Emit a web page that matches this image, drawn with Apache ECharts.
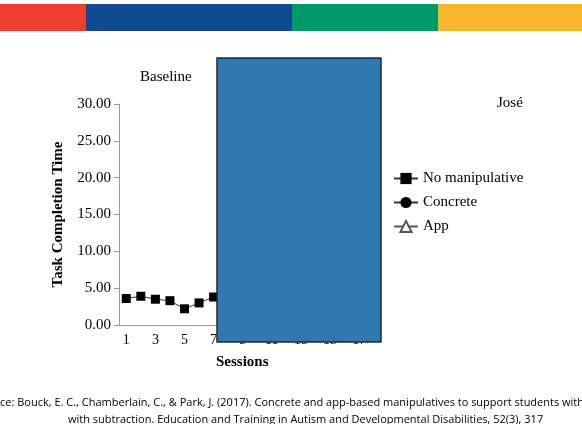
<!DOCTYPE html>
<html>
<head>
<meta charset="utf-8">
<script src="https://cdn.jsdelivr.net/npm/echarts@6/dist/echarts.min.js"></script>
<style>html,body{margin:0;padding:0;background:#fff}#c{width:582px;height:424px}</style>
</head>
<body>
<div id="c"></div>
<script>
// 数据
var sessions = ['1','2','3','4','5','6','7','8','9','10','11','12','13','14','15','16','17','18'];
var noManipulative = [3.6, 3.9, 3.5, 3.3, 2.2, 3.0, 3.8];
var concrete = [];
var app = [];
var yTicks = [0, 5, 10, 15, 20, 25, 30];

var serif = 'Liberation Serif';
var chart = echarts.init(document.getElementById('c'));
chart.setOption({
    animation: false,
    grid: {left: 119, right: 201, top: 104, bottom: 99},
    xAxis: {
        type: 'category', data: sessions, boundaryGap: true,
        axisLine: {lineStyle: {color: '#999'}},
        axisTick: {lineStyle: {color: '#999'}, alignWithLabel: false},
        axisLabel: {interval: 1, color: '#000', fontFamily: serif, fontSize: 14}
    },
    yAxis: {
        type: 'value', min: yTicks[0], max: yTicks[yTicks.length - 1], interval: 5,
        name: 'Task Completion Time', nameLocation: 'middle', nameGap: 53,
        nameTextStyle: {fontFamily: serif, fontWeight: 'bold', fontSize: 15, color: '#000'},
        splitLine: {show: false},
        axisLine: {show: true, lineStyle: {color: '#999'}},
        axisTick: {show: true, lineStyle: {color: '#999'}},
        axisLabel: {formatter: function (v) { return v.toFixed(2); }, color: '#000', fontFamily: serif, fontSize: 15}
    },
    legend: {
        orient: 'vertical', left: 388, top: 166, itemGap: 9, itemWidth: 24,
        textStyle: {fontFamily: serif, fontSize: 15, color: '#000'},
        data: ['No manipulative', 'Concrete', 'App']
    },
    series: [
        {name: 'No manipulative', type: 'line', data: noManipulative, symbol: 'rect', symbolSize: 9,
         itemStyle: {color: '#000'}, lineStyle: {color: '#333', width: 1}},
        {name: 'Concrete', type: 'line', data: concrete, symbol: 'circle', symbolSize: 8,
         itemStyle: {color: '#000'}, lineStyle: {color: '#333', width: 1}},
        {name: 'App', type: 'line', data: app, symbol: 'triangle', symbolSize: 9,
         itemStyle: {color: '#fff', borderColor: '#555', borderWidth: 1}, lineStyle: {color: '#555', width: 1}}
    ],
    graphic: [
        {type: 'rect', z: 100, shape: {x: 0, y: 4, width: 86, height: 27}, style: {fill: '#ee3e30'}},
        {type: 'rect', z: 100, shape: {x: 86, y: 4, width: 206, height: 27}, style: {fill: '#0f4a92'}},
        {type: 'rect', z: 100, shape: {x: 292, y: 4, width: 146, height: 27}, style: {fill: '#00996a'}},
        {type: 'rect', z: 100, shape: {x: 438, y: 4, width: 144, height: 27}, style: {fill: '#fbb72b'}},
        {type: 'rect', z: 100, shape: {x: 217, y: 58, width: 164, height: 284}, style: {fill: '#2f78b1', stroke: '#1a2a3a', lineWidth: 1.5}},
        {type: 'text', z: 100, left: 140, top: 70, style: {text: 'Baseline', font: '15px "Liberation Serif"', fill: '#000'}},
        {type: 'text', z: 100, left: 497, top: 96, style: {text: 'José', font: '15px "Liberation Serif"', fill: '#000'}},
        {type: 'text', z: 100, left: 216, top: 355, style: {text: 'Sessions', font: 'bold 15px "Liberation Serif"', fill: '#000'}},
        {type: 'text', z: 100, left: 0, top: 397, style: {text: 'ce: Bouck, E. C., Chamberlain, C., & Park, J. (2017). Concrete and app-based manipulatives to support students with dis', font: '11px "Open Sans"', fill: '#000'}},
        {type: 'text', z: 100, left: 68, top: 414, style: {text: 'with subtraction. Education and Training in Autism and Developmental Disabilities, 52(3), 317', font: '11px "Open Sans"', fill: '#000'}}
    ]
});
</script>
</body>
</html>
